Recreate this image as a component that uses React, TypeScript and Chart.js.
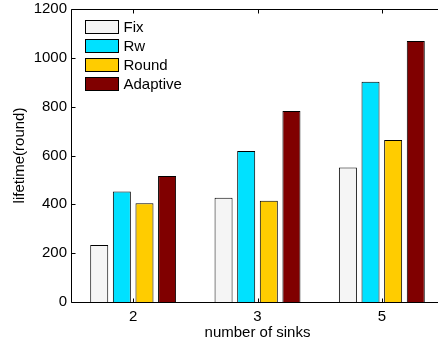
import React, { useEffect, useRef } from "react";
import { Chart, registerables } from "chart.js";

Chart.register(...registerables);

const categories = ["2", "3", "5"];
const seriesNames = ["Fix", "Rw", "Round", "Adaptive"];
const fixValues = [233, 427, 551];
const rwValues = [453, 618, 902];
const roundValues = [404, 415, 663];
const adaptiveValues = [516, 782, 1069];
const yTicks = [0, 200, 400, 600, 800, 1000, 1200];
const colors = ["#f5f5f5", "#00e1ff", "#ffcc00", "#800000"];

const FONT = "'Liberation Sans', Arial, Helvetica, sans-serif";
const FS = 15;

const framePlugin = {
  id: "frame",
  afterDraw(chart: any) {
    const ctx = chart.ctx;
    const { left, right, top, bottom } = chart.chartArea;
    const xs = chart.scales.x;
    const ys = chart.scales.y;
    ctx.save();
    ctx.strokeStyle = "#000";
    ctx.lineWidth = 1;
    const L = Math.round(left) + 0.5;
    const R = Math.round(right) + 0.5;
    const T = Math.round(top) + 0.5;
    const B = Math.round(bottom) + 0.5;
    ctx.beginPath();
    ctx.moveTo(L, T);
    ctx.lineTo(R, T);
    ctx.lineTo(R, B);
    ctx.lineTo(L, B);
    ctx.closePath();
    ctx.stroke();
    ctx.beginPath();
    yTicks.forEach((v) => {
      const y = Math.round(ys.getPixelForValue(v)) + 0.5;
      ctx.moveTo(L, y);
      ctx.lineTo(L + 4, y);
      ctx.moveTo(R, y);
      ctx.lineTo(R - 4, y);
    });
    categories.forEach((_, i) => {
      const x = Math.round(xs.getPixelForValue(i + 1)) + 0.5;
      ctx.moveTo(x, B);
      ctx.lineTo(x, B - 4);
      ctx.moveTo(x, T);
      ctx.lineTo(x, T + 4);
    });
    ctx.stroke();
    ctx.font = `${FS}px ${FONT}`;
    ctx.textBaseline = "middle";
    ctx.textAlign = "left";
    seriesNames.forEach((name, i) => {
      const bx = Math.round(left) + 14.5;
      const by = Math.round(top) + 11.5 + i * 19;
      ctx.fillStyle = colors[i];
      ctx.fillRect(bx, by, 33, 13);
      ctx.strokeStyle = "#000";
      ctx.strokeRect(bx, by, 33, 13);
      ctx.fillStyle = "#000";
      ctx.fillText(name, bx + 38, by + 7);
    });
    ctx.restore();
  },
};

export default function App() {
  const ref = useRef<HTMLCanvasElement | null>(null);
  useEffect(() => {
    if (!ref.current) return;
    const series = [fixValues, rwValues, roundValues, adaptiveValues];
    const chart = new Chart(ref.current, {
      type: "bar",
      data: {
        datasets: series.map((vals, i) => ({
          label: seriesNames[i],
          data: vals.map((v, j) => ({ x: j + 1, y: v })),
          backgroundColor: colors[i],
          borderColor: "#000",
          borderWidth: 1,
          categoryPercentage: 0.728,
          barPercentage: 0.796,
        })),
      },
      options: {
        responsive: false,
        animation: false,
        layout: { padding: { top: 9, right: 16, left: 0, bottom: 0 } },
        plugins: { legend: { display: false }, tooltip: { enabled: false } },
        scales: {
          x: {
            type: "linear",
            offset: false,
            min: 0.5,
            max: 3.5,
            grid: { display: false, drawTicks: false },
            border: { display: false },
            afterBuildTicks: (scale: any) => {
              scale.ticks = categories.map((_, i) => ({ value: i + 1 }));
            },
            afterFit: (scale: any) => {
              scale.height = 41;
              scale.paddingLeft = 0;
              scale.paddingRight = 0;
            },
            ticks: {
              autoSkip: false,
              maxRotation: 0,
              padding: 6,
              color: "#000",
              font: { family: FONT, size: FS },
              callback: (v: any) => categories[Number(v) - 1] ?? "",
            },
            title: {
              display: true,
              text: "number of sinks",
              color: "#000",
              font: { family: FONT, size: FS },
              padding: { top: 0, bottom: 1 },
            },
          },
          y: {
            min: 0,
            max: 1200,
            grid: { display: false, drawTicks: false },
            border: { display: false },
            afterBuildTicks: (scale: any) => {
              scale.ticks = yTicks.map((v) => ({ value: v }));
            },
            afterFit: (scale: any) => {
              scale.width = 71;
              scale.paddingTop = 0;
              scale.paddingBottom = 0;
            },
            ticks: {
              padding: 4,
              color: "#000",
              font: { family: FONT, size: FS },
              callback: (v: any) => String(v),
            },
            title: {
              display: true,
              text: "lifetime(round)",
              color: "#000",
              font: { family: FONT, size: FS },
              padding: { top: 11, bottom: 0 },
            },
          },
        },
      },
      plugins: [framePlugin],
    });
    return () => chart.destroy();
  }, []);
  return (
    <div style={{ position: "fixed", left: 0, top: 0, width: 438, height: 343, overflow: "hidden", background: "#fff" }}>
      <canvas ref={ref} width={460} height={343} style={{ display: "block" }} />
    </div>
  );
}
